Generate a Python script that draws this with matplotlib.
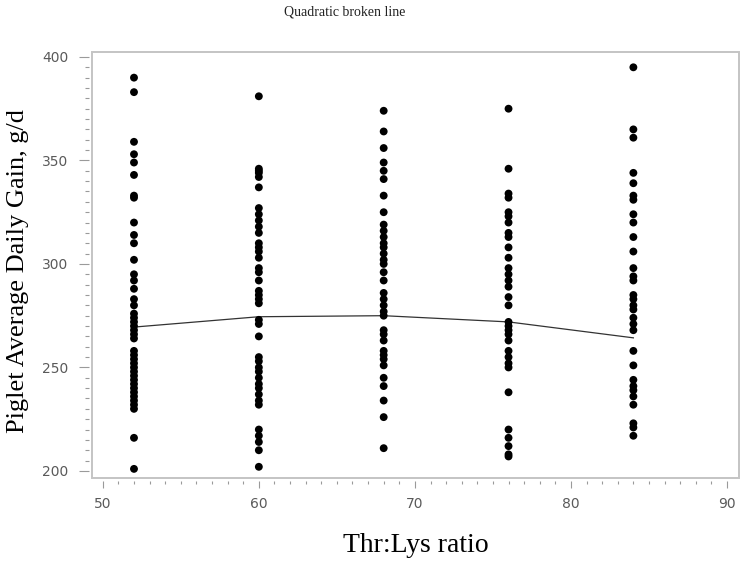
import numpy as np
import matplotlib
matplotlib.use("Agg")
import matplotlib.pyplot as plt
from matplotlib.patches import Rectangle
from matplotlib.ticker import MultipleLocator

ratios = [52, 60, 68, 76, 84]
gain_52 = [390, 383, 359, 353, 349, 343, 333, 332, 320, 314, 310, 302, 295, 292, 288,
           283, 280, 276, 274, 272, 270, 268, 266, 264, 258, 256, 254, 252, 250, 248,
           246, 244, 242, 240, 238, 236, 234, 232, 230, 216, 201]
gain_60 = [381, 346, 345, 344, 342, 337, 327, 324, 321, 318, 315, 310, 308, 306, 303,
           298, 296, 292, 287, 285, 283, 281, 273, 271, 265, 255, 253, 250, 248, 245,
           242, 240, 237, 234, 232, 220, 217, 214, 210, 202]
gain_68 = [374, 364, 356, 349, 345, 341, 333, 325, 319, 316, 313, 310, 308, 305, 302,
           300, 296, 292, 286, 283, 280, 277, 275, 268, 266, 263, 258, 256, 254, 251,
           245, 241, 234, 226, 211]
gain_76 = [375, 346, 334, 332, 325, 323, 320, 315, 313, 308, 303, 298, 295, 292, 289,
           284, 280, 272, 270, 268, 266, 263, 258, 255, 252, 250, 238, 220, 216, 212,
           208, 207]
gain_84 = [395, 365, 361, 344, 339, 333, 331, 324, 320, 313, 306, 298, 294, 292, 285,
           283, 280, 278, 274, 271, 268, 258, 251, 244, 241, 239, 236, 232, 223, 221, 217]
gains = [gain_52, gain_60, gain_68, gain_76, gain_84]

# fitted quadratic broken line
fit_x = [52, 60, 68, 76, 84]
fit_y = [269.5, 274.5, 275.0, 272.0, 264.3]

fig = plt.figure(figsize=(7.42, 5.62), dpi=100)
ax = fig.add_axes([0.124, 0.1495, 0.872, 0.758])

for r, g in zip(ratios, gains):
    ax.scatter([r] * len(g), g, s=32, color='black', edgecolors='none', zorder=3)
ax.plot(fit_x, fit_y, color='#333333', lw=0.9, zorder=2)

ax.set_xlim(49.31, 90.77)
ax.set_ylim(196.6, 402.4)

# frame drawn separately, ticks sit a little outside it
for s in ax.spines.values():
    s.set_visible(False)
ax.spines['bottom'].set_visible(True)
ax.spines['left'].set_visible(True)
ax.spines['bottom'].set_color('none')
ax.spines['left'].set_color('none')
ax.spines['bottom'].set_position(('outward', 2))
ax.spines['left'].set_position(('outward', 2))
ax.add_patch(Rectangle((0, 0), 1, 1, transform=ax.transAxes, fill=False,
                       edgecolor='#c4c4c4', lw=1.4, clip_on=False, zorder=1))

ax.xaxis.set_major_locator(MultipleLocator(10))
ax.xaxis.set_minor_locator(MultipleLocator(1))
ax.yaxis.set_major_locator(MultipleLocator(50))
ax.yaxis.set_minor_locator(MultipleLocator(5))
ax.tick_params(axis='both', which='both', color='#9a9a9a', width=0.8,
               labelcolor='#5a5a5a', labelsize=10)
ax.tick_params(axis='x', which='major', length=4.8, pad=7)
ax.tick_params(axis='x', which='minor', length=2.4)
ax.tick_params(axis='y', which='major', length=7, pad=8)
ax.tick_params(axis='y', which='minor', length=3)
for lab in ax.get_xticklabels() + ax.get_yticklabels():
    lab.set_family('DejaVu Sans')

ax.set_xlabel('Thr:Lys ratio', family='Liberation Serif', fontsize=20, labelpad=16)
ax.set_ylabel('Piglet Average Daily Gain, g/d', family='Liberation Serif',
              fontsize=19)
ax.yaxis.set_label_coords(-0.098, 0.487)
fig.text(0.464, 0.978, 'Quadratic broken line', family='Liberation Serif',
         fontsize=10, ha='center', va='center', color='#222222')

fig.savefig('out.png', dpi=100)
